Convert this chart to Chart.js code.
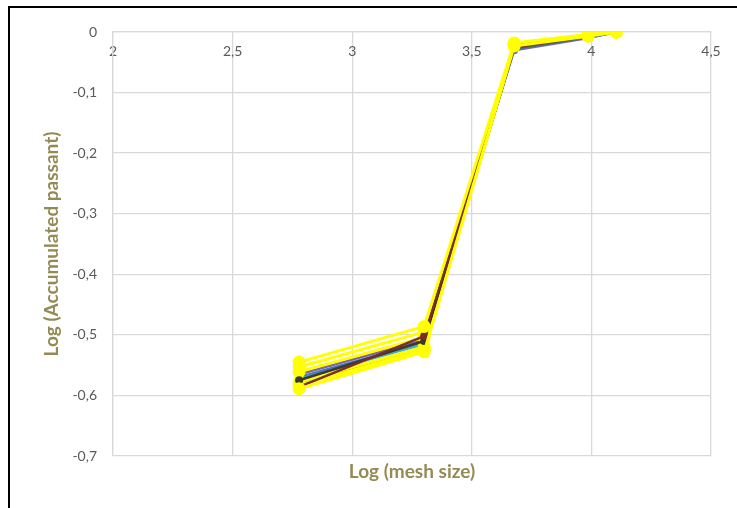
<!DOCTYPE html>
<html>
<head>
<meta charset="utf-8">
<script src="https://cdn.jsdelivr.net/npm/chart.js@4/dist/chart.umd.min.js"></script>
<style>
    html, body { margin: 0; padding: 0; background: #fff; overflow: hidden; }
    #wrap { position: relative; width: 737px; height: 508px; }
    #frame {
        position: absolute; left: 8px; top: 6px; width: 800px; height: 600px;
        border-left: 2px solid #000; border-top: 2px solid #000;
        pointer-events: none;
    }
    #chart { position: absolute; left: 0; top: 0; }
</style>
</head>
<body>
<div id="wrap">
    <div id="frame"></div>
    <canvas id="chart" width="737" height="508"></canvas>
</div>
<script>
// log10 of the sieve mesh sizes
const logMesh = [2.778, 3.301, 3.677, 3.986, 4.104];

// log10 of accumulated passant, one array per sample
const sampleA = [-0.545, -0.486, -0.018, -0.004, 0];
const sampleB = [-0.553, -0.495, -0.019, -0.005, 0];
const sampleC = [-0.561, -0.504, -0.020, -0.005, 0];
const sampleD = [-0.578, -0.520, -0.022, -0.006, 0];
const sampleE = [-0.589, -0.528, -0.023, -0.007, 0];
const sampleF = [-0.583, -0.525, -0.021, -0.006, 0];
const sampleG = [-0.570, -0.512, -0.028, -0.009, 0];
const sampleH = [-0.565, -0.508, -0.030, -0.010, 0];
const sampleI = [-0.573, -0.515, -0.026, -0.008, 0];
const sampleJ = [-0.586, -0.502, -0.025, -0.007, 0];
const sampleK = [-0.580, -0.520, -0.027, -0.008, 0];
const sampleL = [-0.575, -0.510, -0.022, -0.006, 0];

const xTicks = [2, 2.5, 3, 3.5, 4, 4.5];
const yTicks = [0, -0.1, -0.2, -0.3, -0.4, -0.5, -0.6, -0.7];

const TITLE_COLOR = '#948A54';
const TICK_COLOR = '#595959';
const GRID_COLOR = '#d9d9d9';

const toPoints = ys => ys.map((y, i) => ({ x: logMesh[i], y }));
const decimalComma = v => String(Math.round(v * 10) / 10).replace('.', ',');

const yellowSeries = (values) => ({
    data: toPoints(values),
    borderColor: '#FFFF00',
    backgroundColor: '#FFFF00',
    borderWidth: 3,
    pointRadius: 6.5,
    pointBorderWidth: 0
});

const thinSeries = (values, color) => ({
    data: toPoints(values),
    borderColor: color,
    backgroundColor: color,
    borderWidth: 2.5,
    pointRadius: 4,
    pointBorderWidth: 0
});

// first dataset is painted last: mostly yellow on top, the rest underneath
const datasets = [
    yellowSeries(sampleA),
    yellowSeries(sampleE),
    thinSeries(sampleJ, '#7B2B2B'),
    thinSeries(sampleL, '#3A3A2A'),
    yellowSeries(sampleB),
    yellowSeries(sampleD),
    yellowSeries(sampleC),
    yellowSeries(sampleF),
    thinSeries(sampleK, '#4F6228'),
    thinSeries(sampleI, '#4BACC6'),
    thinSeries(sampleG, '#4472C4'),
    thinSeries(sampleH, '#8064A2')
];

new Chart(document.getElementById('chart'), {
    type: 'line',
    data: { datasets },
    options: {
        responsive: false,
        animation: false,
        layout: { padding: { left: 0, top: 32, right: 26, bottom: 0 } },
        plugins: {
            legend: { display: false },
            tooltip: { enabled: false },
            title: {
                display: true,
                position: 'bottom',
                fullSize: false,
                text: 'Log (mesh size)',
                color: TITLE_COLOR,
                font: { family: 'Lato', size: 19, weight: 'bold' },
                padding: { top: 4.6, bottom: 24.6 }
            }
        },
        scales: {
            x: {
                type: 'linear',
                position: { y: 0 },
                min: 2,
                max: 4.5,
                afterBuildTicks: scale => { scale.ticks = xTicks.map(value => ({ value })); },
                ticks: {
                    color: TICK_COLOR,
                    font: { family: 'Lato', size: 14 },
                    padding: 11,
                    callback: decimalComma
                },
                grid: { color: GRID_COLOR, lineWidth: 1.3, drawTicks: false },
                border: { color: GRID_COLOR, width: 1.3 }
            },
            y: {
                type: 'linear',
                position: 'left',
                min: -0.7,
                max: 0,
                afterBuildTicks: scale => { scale.ticks = yTicks.map(value => ({ value })); },
                afterFit: scale => { scale.width = 113; },
                ticks: {
                    color: TICK_COLOR,
                    font: { family: 'Lato', size: 14 },
                    padding: 16,
                    callback: decimalComma
                },
                grid: { color: GRID_COLOR, lineWidth: 1.3, drawTicks: false },
                border: { color: GRID_COLOR, width: 1.3 },
                title: {
                    display: true,
                    text: 'Log (Accumulated passant)',
                    color: TITLE_COLOR,
                    font: { family: 'Lato', size: 19, weight: 'bold' },
                    padding: { top: 40.6, bottom: 0 }
                }
            }
        }
    }
});
</script>
</body>
</html>
